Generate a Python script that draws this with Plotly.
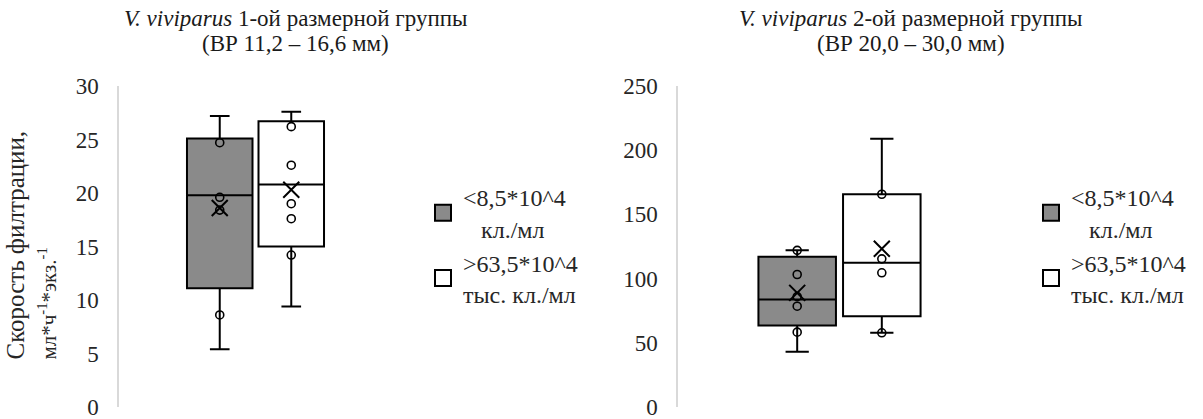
import plotly.graph_objects as go

# Filtration rate of V. viviparus at two food concentrations, two size groups.
# Box statistics (whisker ends, quartiles, median, mean) and inner points.
groups = ["<8,5*10^4 кл./мл", ">63,5*10^4 тыс. кл./мл"]

# size group 1 (ВР 11,2 – 16,6 мм)
g1_low = [5.4, 9.4]
g1_q1 = [11.1, 15.0]
g1_median = [19.8, 20.8]
g1_q3 = [25.1, 26.7]
g1_high = [27.2, 27.6]
g1_mean = [18.6, 20.3]
g1_points = [[8.6, 18.4, 19.6, 24.7], [14.2, 17.6, 19.0, 22.6, 26.2]]

# size group 2 (ВР 20,0 – 30,0 мм)
g2_low = [43.0, 57.8]
g2_q1 = [63.5, 70.7]
g2_median = [83.7, 112.3]
g2_q3 = [117.0, 165.7]
g2_high = [122.0, 208.9]
g2_mean = [88.9, 123.2]
g2_points = [[58.3, 78.5, 86.0, 103.2, 122.0], [57.8, 104.5, 115.4, 165.7]]

y1_ticks = [0, 5, 10, 15, 20, 25, 30]
y2_ticks = [0, 50, 100, 150, 200, 250]

legend_labels = ["<8,5*10^4<br>&nbsp;&nbsp;&nbsp;кл./мл", ">63,5*10^4<br>тыс. кл./мл"]

FONT = "Times New Roman, Liberation Serif, DejaVu Serif, serif"
W, H = 1203, 419
fills = ["#8a8a8a", "#ffffff"]
offsets = [-0.131, 0.131]
BOX_W = 0.24

fig = go.Figure()


def add_panel(xa, ya, low, q1, med, q3, high, mean, points, legend_name):
    for i in range(2):
        pos = offsets[i]
        fig.add_trace(go.Box(
            x=[pos], q1=[q1[i]], median=[med[i]], q3=[q3[i]],
            lowerfence=[low[i]], upperfence=[high[i]],
            orientation="v", width=BOX_W, whiskerwidth=0.3,
            fillcolor=fills[i], line=dict(color="black", width=2),
            boxpoints=False, showlegend=False, hoverinfo="skip",
            xaxis=xa, yaxis=ya,
        ))
        fig.add_trace(go.Scatter(
            x=[pos] * len(points[i]), y=points[i], mode="markers",
            marker=dict(symbol="circle-open", size=8, color="black",
                        line=dict(width=1.6, color="black")),
            showlegend=False, hoverinfo="skip", xaxis=xa, yaxis=ya,
        ))
        fig.add_trace(go.Scatter(
            x=[pos], y=[mean[i]], mode="markers",
            marker=dict(symbol="x-thin-open", size=16, color="black",
                        line=dict(width=2, color="black")),
            showlegend=False, hoverinfo="skip", xaxis=xa, yaxis=ya,
        ))
        # legend swatch
        fig.add_trace(go.Scatter(
            x=[None], y=[None], mode="markers", name=legend_labels[i],
            marker=dict(symbol="square", size=16, color=fills[i],
                        line=dict(width=2, color="black")),
            legend=legend_name, xaxis=xa, yaxis=ya,
        ))


add_panel("x", "y", g1_low, g1_q1, g1_median, g1_q3, g1_high, g1_mean,
          g1_points, "legend")
add_panel("x2", "y2", g2_low, g2_q1, g2_median, g2_q3, g2_high, g2_mean,
          g2_points, "legend2")

px = lambda v: v / W
py = lambda v: 1 - v / H

xcommon = dict(range=[-0.5, 0.5], showticklabels=False, showgrid=False,
               zeroline=False, showline=False, ticks="", fixedrange=True)
ycommon = dict(showgrid=False, zeroline=False, showline=True,
               linecolor="#d9d9d9", linewidth=1.5, ticks="",
               ticklabelstandoff=14, ticklabeloverflow="allow",
               tickfont=dict(family=FONT, size=23, color="#262626"),
               domain=[py(407), py(86)])

legend_style = dict(yanchor="top", xanchor="left",
                    font=dict(family=FONT, size=24, color="#262626"),
                    bgcolor="rgba(0,0,0,0)", itemclick=False)

fig.update_layout(
    template="none",
    width=W, height=H,
    margin=dict(l=0, r=0, t=0, b=0),
    paper_bgcolor="white", plot_bgcolor="white",
    font=dict(family=FONT, color="black"),
    xaxis=dict(domain=[px(119), px(392)], anchor="y", **xcommon),
    xaxis2=dict(domain=[px(678), px(1001)], anchor="y2", **xcommon),
    yaxis=dict(range=[0, 30], tickvals=y1_ticks, anchor="x", **ycommon),
    yaxis2=dict(range=[0, 250], tickvals=y2_ticks, anchor="x2", **ycommon),
    legend=dict(x=px(423), y=py(175), **legend_style),
    legend2=dict(x=px(1031), y=py(175), **legend_style),
    showlegend=True,
)

# y-axis title, lines aligned at their start
fig.add_annotation(
    x=px(31), y=py(362), xref="paper", yref="paper",
    xanchor="center", yanchor="bottom", textangle=-90, align="left",
    showarrow=False,
    text="Скорость филтрации,<br><span style='font-size:21px'>"
         "мл*ч<sup>-1</sup>*экз.<sup>-1</sup></span>",
    font=dict(family=FONT, size=25, color="#262626"),
)

titles = [
    (295, "<i>V. viviparus</i> 1-ой размерной группы", "(ВР 11,2 – 16,6 мм)"),
    (911, "<i>V. viviparus</i> 2-ой размерной группы", "(ВР 20,0 – 30,0 мм)"),
]
for cx, line1, line2 in titles:
    fig.add_annotation(x=px(cx), y=py(19), xref="paper", yref="paper",
                       text=line1, showarrow=False, xanchor="center",
                       yanchor="middle",
                       font=dict(family=FONT, size=23, color="#1a1a1a"))
    fig.add_annotation(x=px(cx), y=py(43), xref="paper", yref="paper",
                       text=line2, showarrow=False, xanchor="center",
                       yanchor="middle",
                       font=dict(family=FONT, size=23, color="#1a1a1a"))

fig.write_html("out.html")
